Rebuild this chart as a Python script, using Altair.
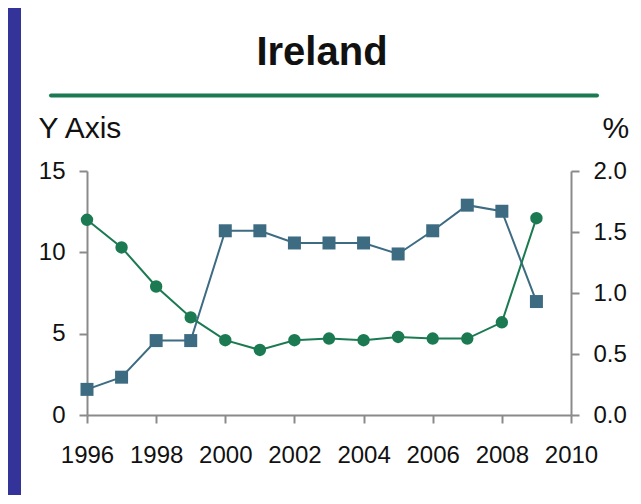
import altair as alt
import pandas as pd

years = [1996, 1997, 1998, 1999, 2000, 2001, 2002, 2003, 2004, 2005, 2006, 2007, 2008, 2009]
green_vals = [12.0, 10.3, 7.9, 6.0, 4.6, 4.0, 4.6, 4.7, 4.6, 4.8, 4.7, 4.7, 5.7, 12.1]
blue_vals = [0.21, 0.31, 0.61, 0.61, 1.51, 1.51, 1.41, 1.41, 1.41, 1.32, 1.51, 1.72, 1.67, 0.93]
x_ticks = [1996, 1998, 2000, 2002, 2004, 2006, 2008, 2010]
left_ticks = [0, 5, 10, 15]
right_ticks = [0.0, 0.5, 1.0, 1.5, 2.0]
title_text = "Ireland"

df = pd.DataFrame({"year": years, "green": green_vals, "blue": blue_vals})

FONT = "Liberation Sans"
GREEN = "#1b7a52"
BLUE = "#3d6b82"
GRAY = "#8a8a8a"
TXT = "#111111"

common_axis = dict(
    grid=False, domainColor=GRAY, domainWidth=2, tickColor=GRAY, tickWidth=2,
    tickSize=8, labelFont=FONT, labelFontSize=24, labelColor=TXT,
)

x_enc = alt.X(
    "year:Q",
    scale=alt.Scale(domain=[1996, 2010], nice=False, zero=False),
    axis=alt.Axis(values=x_ticks, format="d", title=None, labelPadding=20,
                  labelFlush=False, labelOverlap=False, **common_axis),
)

base = alt.Chart(df)

left_axis = alt.Axis(
    orient="left", values=left_ticks, title="Y Axis", titleAngle=0, titleAlign="left",
    titleBaseline="alphabetic", titleX=-49, titleY=-34, titleFont=FONT, titleFontSize=30,
    titleFontWeight="normal", titleColor=TXT, labelPadding=14, **common_axis,
)
right_axis = alt.Axis(
    orient="right", values=right_ticks, format=".1f", title="%", titleAngle=0,
    titleAlign="left", titleBaseline="alphabetic", titleX=31, titleY=-34, titleFont=FONT,
    titleFontSize=30, titleFontWeight="normal", titleColor=TXT, labelPadding=14, **common_axis,
)

y_green = alt.Y("green:Q", scale=alt.Scale(domain=[0, 15], nice=False), axis=left_axis)
y_blue = alt.Y("blue:Q", scale=alt.Scale(domain=[0, 2], nice=False), axis=right_axis)

green_layer = alt.layer(
    base.mark_line(color=GREEN, strokeWidth=2).encode(x=x_enc, y=y_green),
    base.mark_point(filled=True, shape="circle", size=154, color=GREEN, opacity=1).encode(x=x_enc, y=y_green),
)
blue_layer = alt.layer(
    base.mark_line(color=BLUE, strokeWidth=2).encode(x=x_enc, y=y_blue),
    base.mark_point(filled=True, shape="square", size=169, color=BLUE, opacity=1).encode(x=x_enc, y=y_blue),
)

one = pd.DataFrame({"a": [0]})
strip = alt.Chart(one).mark_rect(color="#333399").encode(
    x=alt.value(-79), x2=alt.value(-66), y=alt.value(-163), y2=alt.value(325)
)
rule = alt.Chart(one).mark_rule(color=GREEN, strokeWidth=4, strokeCap="round").encode(
    x=alt.value(-36), x2=alt.value(510), y=alt.value(-75.5)
)
title = alt.Chart(one).mark_text(
    text=title_text, font=FONT, fontSize=40, fontWeight="bold", color=TXT,
    align="center", baseline="alphabetic",
).encode(x=alt.value(235), y=alt.value(-106.5))

chart = alt.layer(strip, rule, title, blue_layer, green_layer).resolve_scale(y="independent").properties(
    width=484,
    height=244,
    autosize=alt.AutoSizeParams(type="none"),
    padding={"left": 79, "top": 163, "right": 62, "bottom": 80},
    background="white",
).configure_view(stroke=None)

chart.save("out.html", embed_options={"renderer": "svg", "actions": False})
